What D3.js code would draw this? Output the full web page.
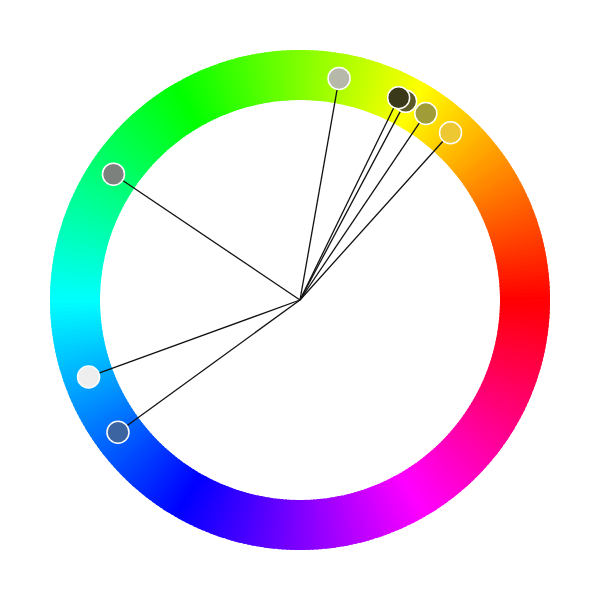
<!DOCTYPE html>
<html><head><meta charset="utf-8">
<script src="https://cdn.jsdelivr.net/npm/d3@7"></script>
<style>body{margin:0;background:#fff}</style>
</head><body>
<svg id="c" width="600" height="600"></svg>
<script>
const hues = [48, 56, 62, 64, 80, 146, 200, 216];
const colors = ["#eec832", "#a09c38", "#5c5a26", "#3a3a1a", "#b6b9aa", "#7d817d", "#eeeeee", "#3c64a0"];
const ringHues = d3.range(0, 360, 1);

const W = 600, H = 600, cx = 300, cy = 300;
const rInner = 200, rOuter = 250, rDot = 225;
const svg = d3.select("#c");
const g = svg.append("g").attr("transform", `translate(${cx},${cy})`);

// hue -> angle (radians, d3 convention: clockwise from 12 o'clock), hue runs counterclockwise from 3 o'clock
const ang = d3.scaleLinear().domain([0, 360]).range([Math.PI / 2, Math.PI / 2 - 2 * Math.PI]);

const arc = d3.arc().innerRadius(rInner).outerRadius(rOuter);
g.selectAll("path.seg").data(ringHues).join("path")
  .attr("class", "seg")
  .attr("d", h => arc({startAngle: ang(h + 1.3), endAngle: ang(h - 0.3)}))
  .attr("fill", h => d3.hsl(h, 1, 0.5).formatHex());

const pts = hues.map((h, i) => {
  const a = ang(h);
  return {x: rDot * Math.sin(a), y: -rDot * Math.cos(a), c: colors[i]};
});

g.selectAll("line.l").data(pts).join("line")
  .attr("x1", 0).attr("y1", 0)
  .attr("x2", d => d.x).attr("y2", d => d.y)
  .attr("stroke", "#111").attr("stroke-width", 1.3);

g.selectAll("circle.p").data(pts).join("circle")
  .attr("cx", d => d.x).attr("cy", d => d.y).attr("r", 11)
  .attr("fill", d => d.c).attr("stroke", "#fff").attr("stroke-width", 1.5);
</script>
</body></html>
